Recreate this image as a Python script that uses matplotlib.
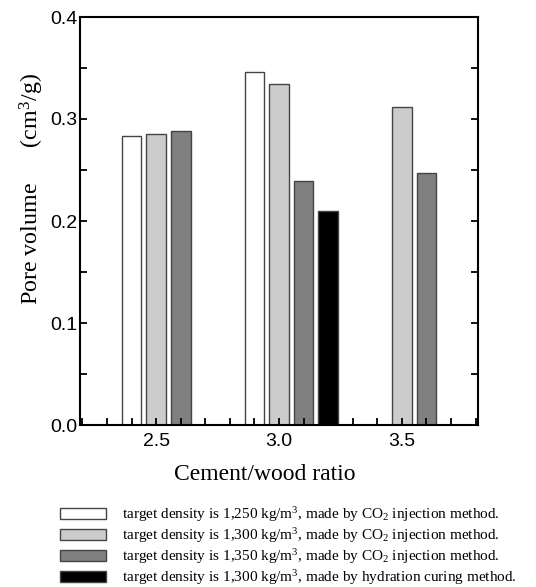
import numpy as np
import matplotlib
matplotlib.use('Agg')
import matplotlib.pyplot as plt
from matplotlib.patches import Patch
from matplotlib.ticker import MultipleLocator

# data
ratios = [2.5, 3.0, 3.5]
pv_1250_co2 = [0.283, 0.346, np.nan]
pv_1300_co2 = [0.285, 0.334, 0.312]
pv_1350_co2 = [0.288, 0.239, 0.247]
pv_1300_hyd = [np.nan, 0.210, np.nan]

labels = ['target density is 1,250 kg/m$^3$, made by CO$_2$ injection method.',
          'target density is 1,300 kg/m$^3$, made by CO$_2$ injection method.',
          'target density is 1,350 kg/m$^3$, made by CO$_2$ injection method.',
          'target density is 1,300 kg/m$^3$, made by hydration curing method.']

plt.rcParams['mathtext.fontset'] = 'custom'
plt.rcParams['mathtext.rm'] = 'Liberation Serif'
plt.rcParams['mathtext.it'] = 'Liberation Serif:italic'

serif = 'Liberation Serif'
sans = 'Liberation Sans'

fig = plt.figure(figsize=(5.36, 5.87), dpi=100)
ax = fig.add_axes([80/536, 1-425/587, 398/536, 408/587])

series = [pv_1250_co2, pv_1300_co2, pv_1350_co2, pv_1300_hyd]
colors = ['white', '#cccccc', '#808080', 'black']
offsets = [-0.1, 0.0, 0.1, 0.2]
x = np.array(ratios)
for vals, c, off in zip(series, colors, offsets):
  ax.bar(x + off, vals, width=0.08, color=c, edgecolor='#444444', linewidth=1.0)

ax.set_xlim(2.19, 3.81)
ax.set_ylim(0, 0.4)
ax.xaxis.set_major_locator(MultipleLocator(0.5))
ax.xaxis.set_minor_locator(MultipleLocator(0.1))
ax.yaxis.set_major_locator(MultipleLocator(0.1))
ax.yaxis.set_minor_locator(MultipleLocator(0.05))
ax.tick_params(axis='both', which='both', direction='in', top=False, right=True,
               width=1.3, labelsize=14)
ax.tick_params(which='major', length=5)
ax.tick_params(which='minor', length=5)
ax.tick_params(axis='x', pad=6)
ax.tick_params(axis='y', pad=2)
for lab in ax.get_xticklabels() + ax.get_yticklabels():
  lab.set_fontfamily(sans)
for s in ax.spines.values():
  s.set_linewidth(1.5)

fig.text(265/536, 1-474/587, 'Cement/wood ratio', family=serif, fontsize=17,
         ha='center', va='center')
fig.text(32/536, 1-189/587, 'Pore volume      (cm$^3$/g)', family=serif, fontsize=17.3,
         ha='center', va='center', rotation=90)

handles = [Patch(facecolor=c, edgecolor='#444444', linewidth=1.0) for c in colors]
fig.legend(handles, labels, loc='upper left', bbox_to_anchor=(60/536, 1-505/587),
           frameon=False, prop={'family': serif, 'size': 11},
           handlelength=3.0, handleheight=0.7, handletextpad=1.05,
           labelspacing=0.14, borderpad=0, borderaxespad=0)

plt.savefig('out.png', dpi=100)
